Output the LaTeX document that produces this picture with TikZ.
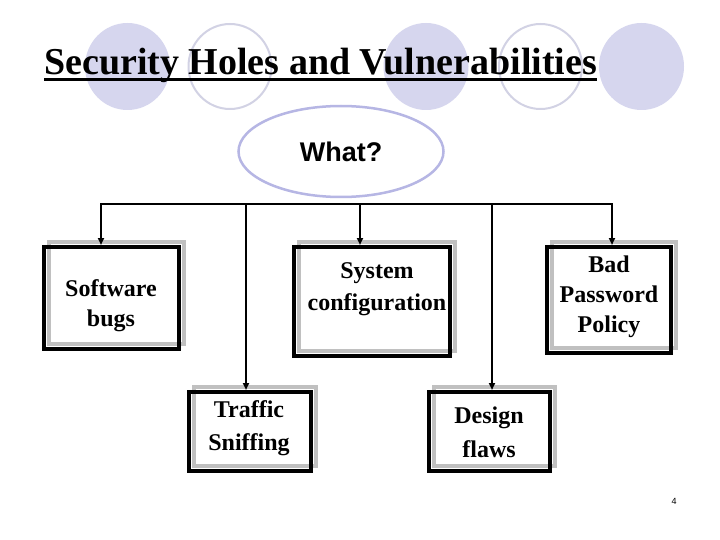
\documentclass[tikz,border=0pt]{standalone}
\usepackage{fontspec}
\setmainfont{Liberation Serif}
\newfontfamily\arialfont{Liberation Sans}
\usetikzlibrary{arrows.meta,shapes.geometric}
\definecolor{lav}{RGB}{214,214,238}
\definecolor{lavline}{RGB}{210,210,228}
\definecolor{ellline}{RGB}{182,182,228}
\definecolor{framegray}{RGB}{192,192,192}
\newcommand\btext[1]{\begin{tabular}[t]{@{}c@{}}#1\end{tabular}}
\begin{document}
\begin{tikzpicture}[x=1pt,y=-1pt,
  disc/.style={ellipse, fill=lav, minimum width=85pt, minimum height=87pt, inner sep=0pt},
  ring/.style={ellipse, draw=lavline, line width=2pt, minimum width=83pt, minimum height=85pt, inner sep=0pt},
  bbox/.style={draw=black, line width=4pt, inner sep=0pt},
  gframe/.style={draw=framegray, line width=3.5pt},
  btxt/.style={font=\fontsize{24}{31}\bfseries\selectfont, inner sep=0pt, anchor=base},
  conn/.style={line width=2pt},
  arr/.style={conn, -{Triangle[length=7pt,width=6pt]}}
]
\useasboundingbox (0,0) rectangle (720,540);
\fill[white] (0,0) rectangle (720,540);

% decorative circles
\node[disc] (d1) at (127.5,66.5) {};
\node[ring] (r1) at (230,66.5) {};
\node[disc] (d2) at (426,66.5) {};
\node[ring] (r2) at (540.5,66.5) {};
\node[disc] (d3) at (641.5,66.5) {};

% title
\node[anchor=base west, inner sep=0pt, font=\fontsize{38}{40}\bfseries\selectfont] (title) at (44,75) {Security Holes and Vulnerabilities};
\draw[line width=3pt] ([yshift=-4.5pt]title.base west) -- ([yshift=-4.5pt]title.base east);

% central ellipse
\node[ellipse, draw=ellline, line width=2.5pt, minimum width=205pt, minimum height=91pt, inner sep=0pt,
      font=\arialfont\fontsize{27}{30}\bfseries\selectfont] (what) at (341,151.5) {What?};

% gray offset frames
\draw[gframe] (49,242) rectangle (184,344);
\draw[gframe] (299,242) rectangle (455,351);
\draw[gframe] (552,242) rectangle (676,348);
\draw[gframe] (194,387) rectangle (316,466);
\draw[gframe] (434,387) rectangle (555,466);

% black boxes
\node[bbox, minimum width=135pt, minimum height=102pt] (sw) at (111.5,298) {};
\node[bbox, minimum width=156pt, minimum height=109pt] (sc) at (372,301.5) {};
\node[bbox, minimum width=124pt, minimum height=106pt] (bp) at (609,300) {};
\node[bbox, minimum width=122pt, minimum height=79pt] (ts) at (250,431.5) {};
\node[bbox, minimum width=121pt, minimum height=79pt] (df) at (489.5,431.5) {};

% box texts
\node[btxt, font=\fontsize{24}{30}\bfseries\selectfont] (swt) at (111,296) {\btext{Software\\bugs}};
\node[btxt, font=\fontsize{24}{32}\bfseries\selectfont] (sct) at (377,278) {\btext{System\\configuration}};
\node[btxt, font=\fontsize{24}{30}\bfseries\selectfont] (bpt) at (609,272) {\btext{Bad\\Password\\Policy}};
\node[btxt, font=\fontsize{24}{33}\bfseries\selectfont] (tst) at (249,417) {\btext{Traffic\\Sniffing}};
\node[btxt, font=\fontsize{24}{34}\bfseries\selectfont] (dft) at (489,423) {\btext{Design\\flaws}};

% connectors
\coordinate (c1) at (101,204);
\coordinate (c2) at (246,204);
\coordinate (c3) at (360,204);
\coordinate (c4) at (492,204);
\coordinate (c5) at (612,204);
\draw[conn] (c2) -- (c4);
\draw[arr] (c2) -- (c1) -- (c1 |- sw.north);
\draw[arr] (c4) -- (c5) -- (c5 |- bp.north);
\draw[arr] (c2) -- (c2 |- ts.north);
\draw[arr] (c3) -- (c3 |- sc.north);
\draw[arr] (c4) -- (c4 |- df.north);

% page number
\node[inner sep=0pt, font=\arialfont\fontsize{9}{10}\selectfont] (pg) at (674,501) {4};
\end{tikzpicture}
\end{document}
